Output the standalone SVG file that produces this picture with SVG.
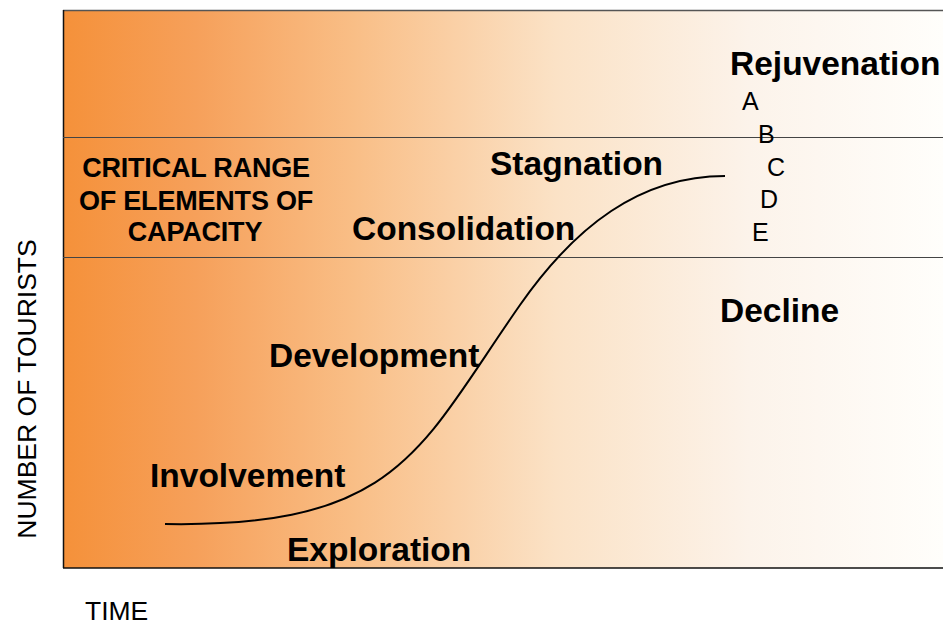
<svg xmlns="http://www.w3.org/2000/svg" width="943" height="626" viewBox="0 0 943 626">
<defs>
<linearGradient id="bg" gradientUnits="userSpaceOnUse" x1="63" y1="0" x2="943" y2="0">
<stop offset="0" stop-color="#F5913A"/>
<stop offset="0.15" stop-color="#F6A05A"/>
<stop offset="0.33" stop-color="#F9BE86"/>
<stop offset="0.56" stop-color="#FBE2C6"/>
<stop offset="0.78" stop-color="#FCF3EA"/>
<stop offset="1" stop-color="#FFFEFB"/>
</linearGradient>
<style>
.lbl{font-family:"Liberation Sans",Arial,sans-serif;font-weight:bold;font-size:33.5px;fill:#000}
.crit{font-family:"Liberation Sans",Arial,sans-serif;font-weight:bold;font-size:27px;fill:#000;text-anchor:middle;letter-spacing:-0.2px}
.sm{font-family:"Liberation Sans",Arial,sans-serif;font-size:25px;fill:#000}
.ax{font-family:"Liberation Sans",Arial,sans-serif;font-size:26.5px;fill:#000}
</style>
</defs>
<g id="chart">
<rect x="63" y="10" width="880" height="558" fill="url(#bg)"/>
<line x1="63" y1="10.5" x2="943" y2="10.5" stroke="#555" stroke-width="1.5"/>
<line x1="63.5" y1="10" x2="63.5" y2="568" stroke="#111" stroke-width="1.5"/>
<line x1="63" y1="568" x2="943" y2="568" stroke="#111" stroke-width="1.5"/>
<line x1="63" y1="137.5" x2="943" y2="137.5" stroke="#444" stroke-width="1"/>
<line x1="63" y1="257.5" x2="943" y2="257.5" stroke="#444" stroke-width="1"/>
</g>
<g id="connectors">
<path d="M165,524 C400,528 420,448 520,305 C575,226.4 640,176 725,176" fill="none" stroke="#000" stroke-width="2"/>
</g>
<g id="critical">
<text class="crit" x="196" y="177">CRITICAL RANGE</text>
<text class="crit" x="196" y="210">OF ELEMENTS OF</text>
<text class="crit" x="195" y="241">CAPACITY</text>
</g>
<g id="rejuvenation"><text class="lbl" x="730" y="75">Rejuvenation</text></g>
<g id="stagnation"><text class="lbl" x="490" y="175">Stagnation</text></g>
<g id="consolidation"><text class="lbl" x="352" y="240">Consolidation</text></g>
<g id="decline"><text class="lbl" x="720" y="322">Decline</text></g>
<g id="development"><text class="lbl" x="269" y="367">Development</text></g>
<g id="involvement"><text class="lbl" x="150" y="487">Involvement</text></g>
<g id="exploration"><text class="lbl" x="287" y="561">Exploration</text></g>
<g id="options">
<text class="sm" x="742" y="110">A</text>
<text class="sm" x="758" y="143">B</text>
<text class="sm" x="767" y="176">C</text>
<text class="sm" x="760" y="208">D</text>
<text class="sm" x="752" y="241">E</text>
</g>
<g id="axes">
<text class="ax" transform="translate(36,389) rotate(-90)" text-anchor="middle">NUMBER OF TOURISTS</text>
<text class="ax" x="85" y="620">TIME</text>
</g>
</svg>
